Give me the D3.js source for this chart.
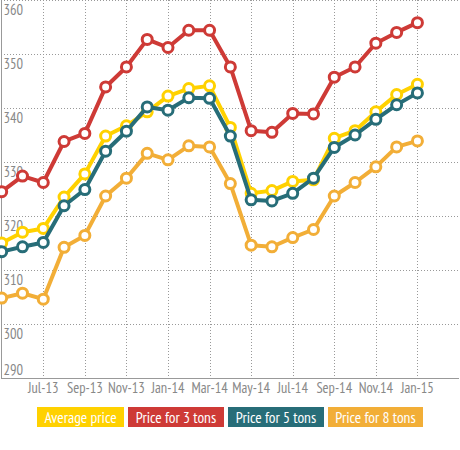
<!DOCTYPE html>
<html>
<head>
<meta charset="utf-8">
<script src="https://cdn.jsdelivr.net/npm/d3@7"></script>
<style>
  body { margin: 0; background: #fff; }
  text { font-family: "Liberation Sans Narrow", "PT Sans Narrow", "DejaVu Sans Condensed", sans-serif; }
</style>
</head>
<body>
<div id="chart"></div>
<script>
// months from May-13 to Jan-15 (21 points)
let months = ['May-13', 'Jun-13', 'Jul-13', 'Aug-13', 'Sep-13', 'Oct-13', 'Nov-13', 'Dec-13',
  'Jan-14', 'Feb-14', 'Mar-14', 'Apr-14', 'May-14', 'Jun-14', 'Jul-14', 'Aug-14',
  'Sep-14', 'Oct-14', 'Nov.14', 'Dec-14', 'Jan-15']

let tickLabels = ['Jul-13', 'Sep-13', 'Nov-13', 'Jan-14', 'Mar-14', 'May-14', 'Jul-14', 'Sep-14', 'Nov.14', 'Jan-15']
let yTicks = [290, 300, 310, 320, 330, 340, 350, 360]

let seriesNames = ['Average price', 'Price for 3 tons', 'Price for 5 tons', 'Price for 8 tons']
let seriesColors = ['#FFD100', '#CE3A36', '#276D78', '#F2AE37']

let averagePrice = [315.0, 317.0, 317.7, 323.5, 327.8, 334.8, 336.7, 339.3, 342.2, 343.6, 344.1,
  336.4, 324.2, 324.7, 326.4, 326.7, 334.4, 335.8, 339.3, 342.5, 344.4]
let price3 = [324.5, 327.4, 326.2, 333.8, 335.3, 343.9, 347.6, 352.7, 351.2, 354.4, 354.4,
  347.6, 335.8, 335.5, 339.0, 338.9, 345.7, 347.6, 352.0, 354.0, 355.8]
let price5 = [313.4, 314.3, 315.1, 321.9, 324.9, 332.0, 335.7, 340.2, 339.6, 341.9, 341.8,
  334.8, 323.0, 322.8, 324.2, 327.0, 332.7, 335.0, 337.9, 340.6, 342.8]
let price8 = [304.8, 305.7, 304.6, 314.2, 316.4, 323.7, 327.0, 331.6, 330.4, 333.0, 332.8,
  326.0, 314.6, 314.3, 316.0, 317.5, 323.7, 326.2, 329.1, 332.8, 333.9]

let seriesValues = [averagePrice, price3, price5, price8]

let width = 460
let height = 450
let plotBottom = 378

let svg = d3.select('#chart')
  .append('svg')
  .attr('width', width)
  .attr('height', height)

// month index scale, the plot runs two months past the last point
let x = d3.scaleLinear().domain([0, months.length + 1]).range([1.7, 459])
let y = d3.scaleLinear().domain([290, 360]).range([plotBottom, 0])

// horizontal grid
svg.append('g')
  .selectAll('line')
  .data(yTicks.slice(1))
  .enter()
  .append('line')
  .attr('x1', 1)
  .attr('x2', 459)
  .attr('y1', d => Math.round(y(d)) + 0.5)
  .attr('y2', d => Math.round(y(d)) + 0.5)
  .attr('stroke', '#999')
  .attr('stroke-dasharray', '1,2')

// vertical grid
svg.append('g')
  .selectAll('line')
  .data(tickLabels)
  .enter()
  .append('line')
  .attr('x1', d => Math.round(x(months.indexOf(d))) + 0.5)
  .attr('x2', d => Math.round(x(months.indexOf(d))) + 0.5)
  .attr('y1', 0)
  .attr('y2', plotBottom)
  .attr('stroke', '#999')
  .attr('stroke-dasharray', '1,2')

// axes lines
svg.append('line')
  .attr('x1', 1.5).attr('x2', 1.5)
  .attr('y1', 0).attr('y2', plotBottom + 0.5)
  .attr('stroke', '#999')
svg.append('line')
  .attr('x1', 1).attr('x2', 459)
  .attr('y1', plotBottom + 0.5).attr('y2', plotBottom + 0.5)
  .attr('stroke', '#999')

// y labels sit inside the plot, just under their gridline
svg.append('g')
  .selectAll('text')
  .data(yTicks)
  .enter()
  .append('text')
  .attr('x', 3.5)
  .attr('y', d => d === 290 ? y(d) - 8 : y(d) + 10)
  .attr('dy', '0.35em')
  .attr('fill', '#888')
  .attr('font-size', 14.5)
  .text(d => d)

// x labels
svg.append('g')
  .selectAll('text')
  .data(tickLabels)
  .enter()
  .append('text')
  .attr('x', d => x(months.indexOf(d)))
  .attr('y', 388)
  .attr('dy', '0.35em')
  .attr('text-anchor', 'middle')
  .attr('fill', '#888')
  .attr('font-size', 14.5)
  .text(d => d)

let line = d3.line()
  .x((d, i) => x(i))
  .y(d => y(d))

seriesValues.forEach((values, k) => {
  let g = svg.append('g')
  g.append('path')
    .datum(values)
    .attr('d', line)
    .attr('fill', 'none')
    .attr('stroke', seriesColors[k])
    .attr('stroke-width', 4)
    .attr('stroke-linejoin', 'round')
  g.selectAll('circle')
    .data(values)
    .enter()
    .append('circle')
    .attr('cx', (d, i) => x(i))
    .attr('cy', d => y(d))
    .attr('r', 5)
    .attr('fill', '#fff')
    .attr('stroke', seriesColors[k])
    .attr('stroke-width', 3)
})

// legend
let legendX = [37, 128, 228, 328]
let legendW = [87, 96, 96, 95]
let legend = svg.append('g')
  .selectAll('g')
  .data(seriesNames)
  .enter()
  .append('g')
  .attr('transform', (d, i) => `translate(${legendX[i]}, 407)`)

legend.append('rect')
  .attr('width', (d, i) => legendW[i])
  .attr('height', 20)
  .attr('fill', (d, i) => seriesColors[i])

legend.append('text')
  .attr('x', (d, i) => legendW[i] / 2)
  .attr('y', 10.5)
  .attr('dy', '0.35em')
  .attr('text-anchor', 'middle')
  .attr('fill', '#fff')
  .attr('font-size', 15.5)
  .text(d => d)
</script>
</body>
</html>
